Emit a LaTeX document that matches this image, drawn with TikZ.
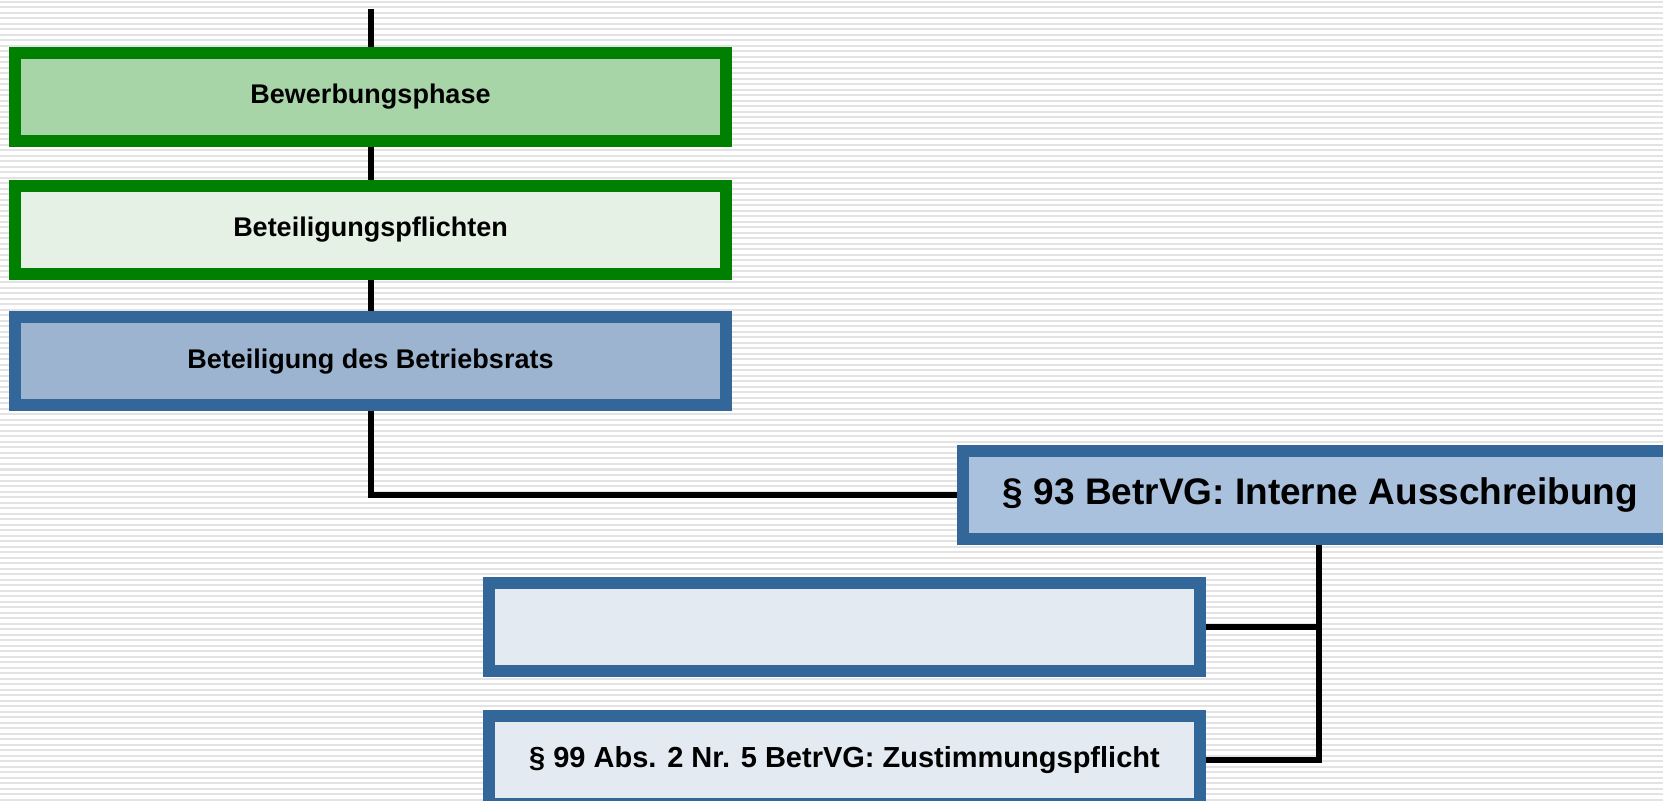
\documentclass[tikz,border=0pt]{standalone}
\usepackage{fontspec}
\setmainfont{Liberation Sans}
\definecolor{gborder}{HTML}{008000}
\definecolor{bborder}{HTML}{336699}
\definecolor{gfillA}{HTML}{A8D5A8}
\definecolor{gfillB}{HTML}{E4F1E4}
\definecolor{bfillA}{HTML}{9DB4D1}
\definecolor{bfillB}{HTML}{A9C1DD}
\definecolor{bfillC}{HTML}{E3EAF2}
\definecolor{stripe}{HTML}{E3E3E3}
\tikzset{
  box/.style={rectangle, line width=6pt, minimum width=355.5pt, minimum height=44pt,
    inner sep=0pt, align=center, font=\bfseries\fontsize{13.5}{16}\selectfont, text=black},
  greenbox/.style={box, draw=gborder},
  bluebox/.style={box, draw=bborder},
  conn/.style={line width=3pt, black}
}
\begin{document}
\begin{tikzpicture}[x=0.5pt, y=-0.5pt]
\useasboundingbox (0,0) rectangle (1663,801);
\clip (0,0) rectangle (1663,801);
\fill[white] (0,0) rectangle (1663,801);
\foreach \i in {0,...,146} {
  \fill[stripe] (0,\i*5.5+1) rectangle (1663,\i*5.5+3);
}
% nodes
\node[greenbox, fill=gfillA] (b1) at (370.5,97) {Bewerbungsphase};
\node[greenbox, fill=gfillB] (b2) at (370.5,230) {Beteiligungspflichten};
\node[bluebox, fill=bfillA] (b3) at (370.5,361.5) {Beteiligung des Betriebsrats};
\node[bluebox, fill=bfillB, minimum width=357.5pt, font=\bfseries\fontsize{18.5}{22}\selectfont] (b4) at (1320.5,495) {§ 93 BetrVG: Interne Ausschreibung};
\node[bluebox, fill=bfillC] (b5) at (844.5,627) {};
\node[bluebox, fill=bfillC, font=\bfseries\fontsize{14.5}{17}\selectfont] (b6) at (844.5,760) {§ 99 Abs. 2 Nr. 5 BetrVG: Zustimmungspflicht};
% connectors
\coordinate (top) at (370.5,9);
\coordinate (fork) at (1318.7,627);
\draw[conn] (top) -- (b1.north);
\draw[conn] (b1.south) -- (b2.north);
\draw[conn] (b2.south) -- (b3.north);
\draw[conn] (b3.south) |- (b4.west);
\draw[conn] (b4.south -| fork) |- (b6.east);
\draw[conn] (b5.east) -- (fork);
\end{tikzpicture}
\end{document}
